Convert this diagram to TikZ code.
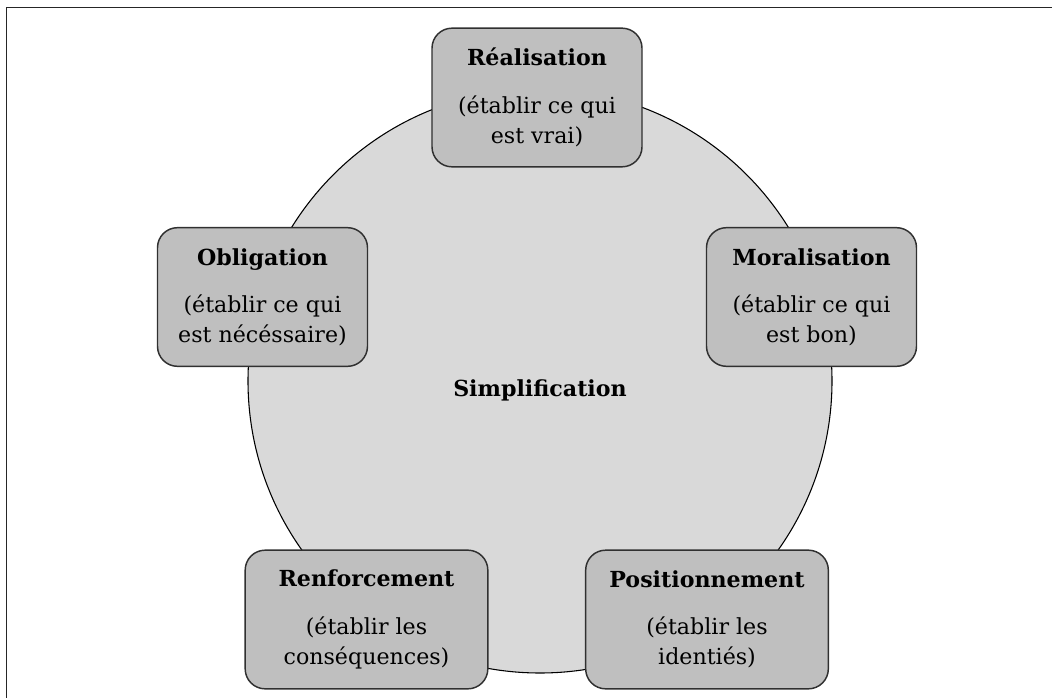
\documentclass[tikz,border=0pt]{standalone}
\usepackage{fontspec}
\setmainfont{DejaVu Serif}
\definecolor{ringfill}{HTML}{D9D9D9}
\definecolor{boxfill}{HTML}{BFBFBF}
\definecolor{boxline}{HTML}{303030}
\tikzset{
  stagebox/.style={draw=boxline, line width=1.1pt, fill=boxfill,
    rounded corners=15pt, minimum width=157.5pt, minimum height=104pt,
    align=center, inner sep=0pt,
    font=\fontsize{16.6}{22.5}\selectfont},
  widebox/.style={stagebox, minimum width=182pt},
  hub/.style={font=\fontsize{16.6}{20}\selectfont\bfseries}
}
\begin{document}
\begin{tikzpicture}[x=0.75pt, y=-0.75pt]
  \useasboundingbox (0,0) rectangle (1052,698);
  \clip (0,0) rectangle (1052,698);
  % outer frame (only its top and left sides fall inside the page)
  \draw[line width=1.2pt, black!85] (6.5,7.5) rectangle (1080,730);
  % central ring
  \draw[fill=ringfill, line width=0.8pt] (540,381) circle [radius=292];
  \node[hub] (simp) at (540,390) {Simplification};
  % five stages placed around the ring
  \node[stagebox] (real) at (537,97.5)
    {{\bfseries Réalisation}\\[13pt](établir ce qui\\est vrai)};
  \node[stagebox] (oblig) at (262.5,297)
    {{\bfseries Obligation}\\[13pt](établir ce qui\\est nécéssaire)};
  \node[stagebox] (moral) at (811.5,297)
    {{\bfseries Moralisation}\\[13pt](établir ce qui\\est bon)};
  \node[widebox] (renf) at (366.5,619.5)
    {{\bfseries Renforcement}\\[13pt](établir les\\conséquences)};
  \node[widebox] (posit) at (707,619.5)
    {{\bfseries Positionnement}\\[13pt](établir les\\identiés)};
\end{tikzpicture}
\end{document}
